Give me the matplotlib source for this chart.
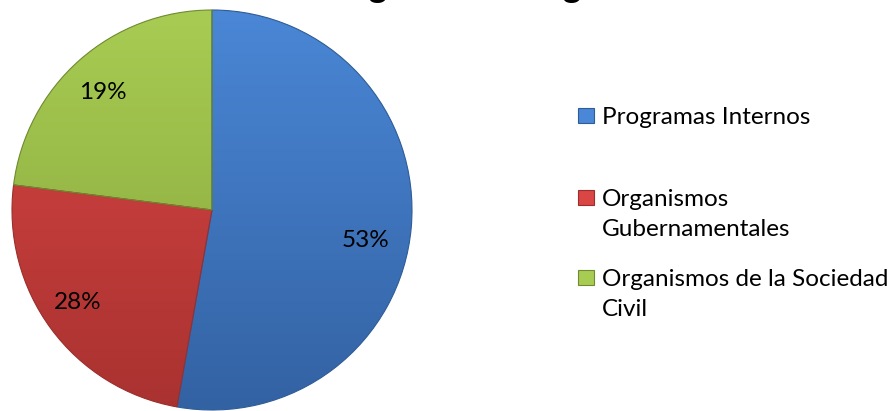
import matplotlib
matplotlib.use("Agg")
import matplotlib.pyplot as plt
import numpy as np
from matplotlib.colors import to_rgb

# data
categories = ['Programas Internos', 'Organismos\nGubernamentales', 'Organismos de la Sociedad\nCivil']
shares = [52.8, 24.2, 23.0]          # wedge sizes as drawn
pct_labels = ['53%', '28%', '19%']   # labels as printed
title = 'Origen de los Ingresos'

top_colors = ['#4A87D6', '#D94644', '#A8CC53']
bot_colors = ['#3362A3', '#A93230', '#85A33A']
edge_colors = ['#2F5C96', '#9A2E2C', '#6F8A30']

# where the percent labels sit, in pie radii from the centre
label_pos = [(0.77, -0.15), (-0.672, -0.463), (-0.547, 0.587)]

plt.rcParams['font.family'] = ['Lato', 'DejaVu Sans']

fig = plt.figure(figsize=(8.93, 4.11), dpi=100)
ax = fig.add_axes([11 / 893, 0.0, 402 / 893, 402 / 411])

wedges, texts = ax.pie(shares, startangle=90, counterclock=False,
                       radius=1.0, labels=pct_labels, labeldistance=0.8,
                       textprops=dict(fontsize=17.5, color='black',
                                      ha='center', va='center'),
                       wedgeprops=dict(linewidth=0.8))
for t, p in zip(texts, label_pos):
    t.set_position(p)

# vertical gradient fill clipped to every wedge
grad = np.linspace(0, 1, 256)[:, None]
for w, c1, c2, ec in zip(wedges, top_colors, bot_colors, edge_colors):
    w.set_facecolor('none')
    w.set_edgecolor(ec)
    a = np.array(to_rgb(c1))
    b = np.array(to_rgb(c2))
    img = a[None, None, :] * (1 - grad[:, :, None]) + b[None, None, :] * grad[:, :, None]
    img = np.repeat(img, 2, axis=1)
    im = ax.imshow(img, extent=(-1, 1, -1, 1), origin='upper', zorder=0.5,
                   interpolation='bilinear', aspect='auto')
    im.set_clip_path(w)
    w.set_zorder(1)

ax.set_xlim(-1.005, 1.005)
ax.set_ylim(-1.005, 1.005)
ax.set_aspect('equal')
ax.axis('off')

# legend, laid out by hand to follow the original spacing
W, H = 893, 411
legend_rows = [115, 197, 277]
for cat, c, e, y in zip(categories, top_colors, edge_colors, legend_rows):
    fig.patches.append(plt.Rectangle((578 / W, 1 - (y + 8) / H), 16 / W, 15 / H,
                                     transform=fig.transFigure, facecolor=c,
                                     edgecolor=e, linewidth=0.8))
    fig.text(602 / W, 1 - (y - 8) / H, cat, fontsize=17.5, ha='left', va='top',
             linespacing=1.55)

# title, cut off at the top edge like in the picture
fig.text(0.55, 1.0 + 3 / H, title, fontsize=25, fontweight='bold',
         ha='center', va='baseline')

fig.savefig('out.png', dpi=100)
